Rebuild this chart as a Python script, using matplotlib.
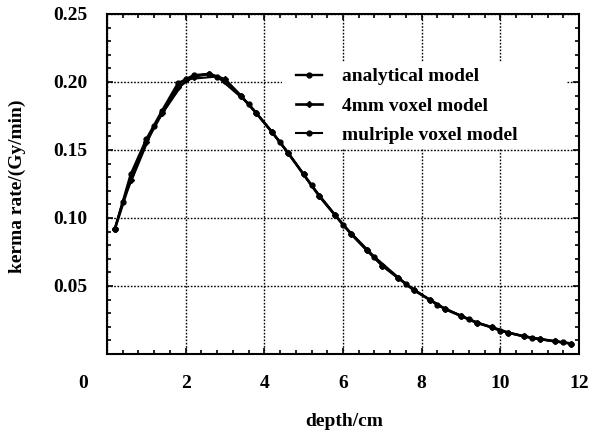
import matplotlib
matplotlib.use("Agg")
import matplotlib.pyplot as plt
from matplotlib.patches import Rectangle
from matplotlib.ticker import MultipleLocator

plt.rcParams['font.family'] = ['Liberation Serif', 'DejaVu Serif']
plt.rcParams['font.weight'] = 'bold'
plt.rcParams['font.size'] = 14

# depth in cm, kerma rate in Gy/min
depth_analytical = [0.2, 0.6, 1.0, 1.4, 1.8, 2.2, 2.6, 3.0, 3.4, 3.8,
                    4.2, 4.6, 5.0, 5.4, 5.8, 6.2, 6.6, 7.0, 7.4, 7.8,
                    8.2, 8.6, 9.0, 9.4, 9.8, 10.2, 10.6, 11.0, 11.4, 11.8]
kerma_analytical = [0.092, 0.132, 0.158, 0.179, 0.199, 0.205, 0.206, 0.201, 0.190, 0.177,
                    0.163, 0.148, 0.132, 0.116, 0.102, 0.0885, 0.0765, 0.065, 0.056, 0.047,
                    0.040, 0.033, 0.028, 0.023, 0.0195, 0.0157, 0.013, 0.011, 0.0093, 0.0077]

depth_4mm = depth_analytical
kerma_4mm = [0.092, 0.128, 0.156, 0.177, 0.196, 0.204, 0.206, 0.202, 0.190, 0.177,
             0.163, 0.148, 0.132, 0.116, 0.102, 0.0885, 0.0765, 0.065, 0.056, 0.047,
             0.040, 0.033, 0.028, 0.023, 0.0195, 0.0157, 0.013, 0.011, 0.0093, 0.0077]

depth_multiple = [0.2, 0.4, 1.2, 2.0, 2.8, 3.6, 4.4, 5.2, 6.0, 6.8,
                  7.6, 8.4, 9.2, 10.0, 10.8, 11.6]
kerma_multiple = [0.092, 0.112, 0.168, 0.202, 0.204, 0.184, 0.156, 0.124, 0.095, 0.0715,
                  0.0515, 0.036, 0.0256, 0.017, 0.0117, 0.0085]

x_ticks = [0, 2, 4, 6, 8, 10, 12]
y_ticks = [0.05, 0.10, 0.15, 0.20, 0.25]

fig = plt.figure(figsize=(5.9, 4.38), dpi=100)
ax = fig.add_axes([107 / 590, 1 - 354 / 438, 472 / 590, 340 / 438])

ax.plot(depth_analytical, kerma_analytical, color='black', lw=1.7,
        marker='o', ms=3.5, label='analytical model', zorder=3)
ax.plot(depth_4mm, kerma_4mm, color='black', lw=1.9,
        marker='D', ms=3, label='4mm voxel model', zorder=3)
ax.plot(depth_multiple, kerma_multiple, color='black', lw=1.5,
        marker='o', ms=3.5, label='mulriple voxel model', zorder=3)

ax.set_xlim(0, 12)
ax.set_ylim(0, 0.25)
ax.set_xticks(x_ticks)
ax.set_xticklabels([''] + [str(t) for t in x_ticks[1:]])
ax.set_yticks(y_ticks)
ax.set_yticklabels(['%.2f' % t for t in y_ticks])
ax.xaxis.set_minor_locator(MultipleLocator(0.4))
ax.yaxis.set_minor_locator(MultipleLocator(0.01))
ax.tick_params(which='both', direction='in', top=True, right=True, width=1.2)
ax.tick_params(which='major', length=4, pad=14)
ax.tick_params(which='minor', length=3)
ax.tick_params(axis='x', which='major', pad=15)

for s in ax.spines.values():
    s.set_linewidth(1.5)

ax.set_axisbelow(True)
ax.grid(True, which='major', color='black', linestyle=(0, (1.2, 1.2)), lw=1.0)

# the zero on the depth axis sits left of the frame corner
ax.annotate('0', xy=(0, 0), xycoords='axes fraction', xytext=(-17, -15),
            textcoords='offset points', ha='center', va='top')

# white patch behind the legend hides the grid there
ax.add_patch(Rectangle(((282 - 107) / 472, (354 - 148) / 340), (567 - 282) / 472, (148 - 62) / 340,
                       transform=ax.transAxes, facecolor='white', edgecolor='none', zorder=1))
leg = ax.legend(loc='upper left', bbox_to_anchor=((290 - 107) / 472, (354 - 62) / 340),
                frameon=False, handlelength=1.35, handletextpad=1.0, labelspacing=0.6,
                borderaxespad=0, borderpad=0.3, fontsize=14)

fig.text(344 / 590, 1 - 422 / 438, 'depth/cm', ha='center', va='center')
fig.text(17 / 590, 1 - 186 / 438, 'kerma rate/(Gy/min)', ha='center', va='center', rotation=90)

fig.savefig('out.png', dpi=100)
